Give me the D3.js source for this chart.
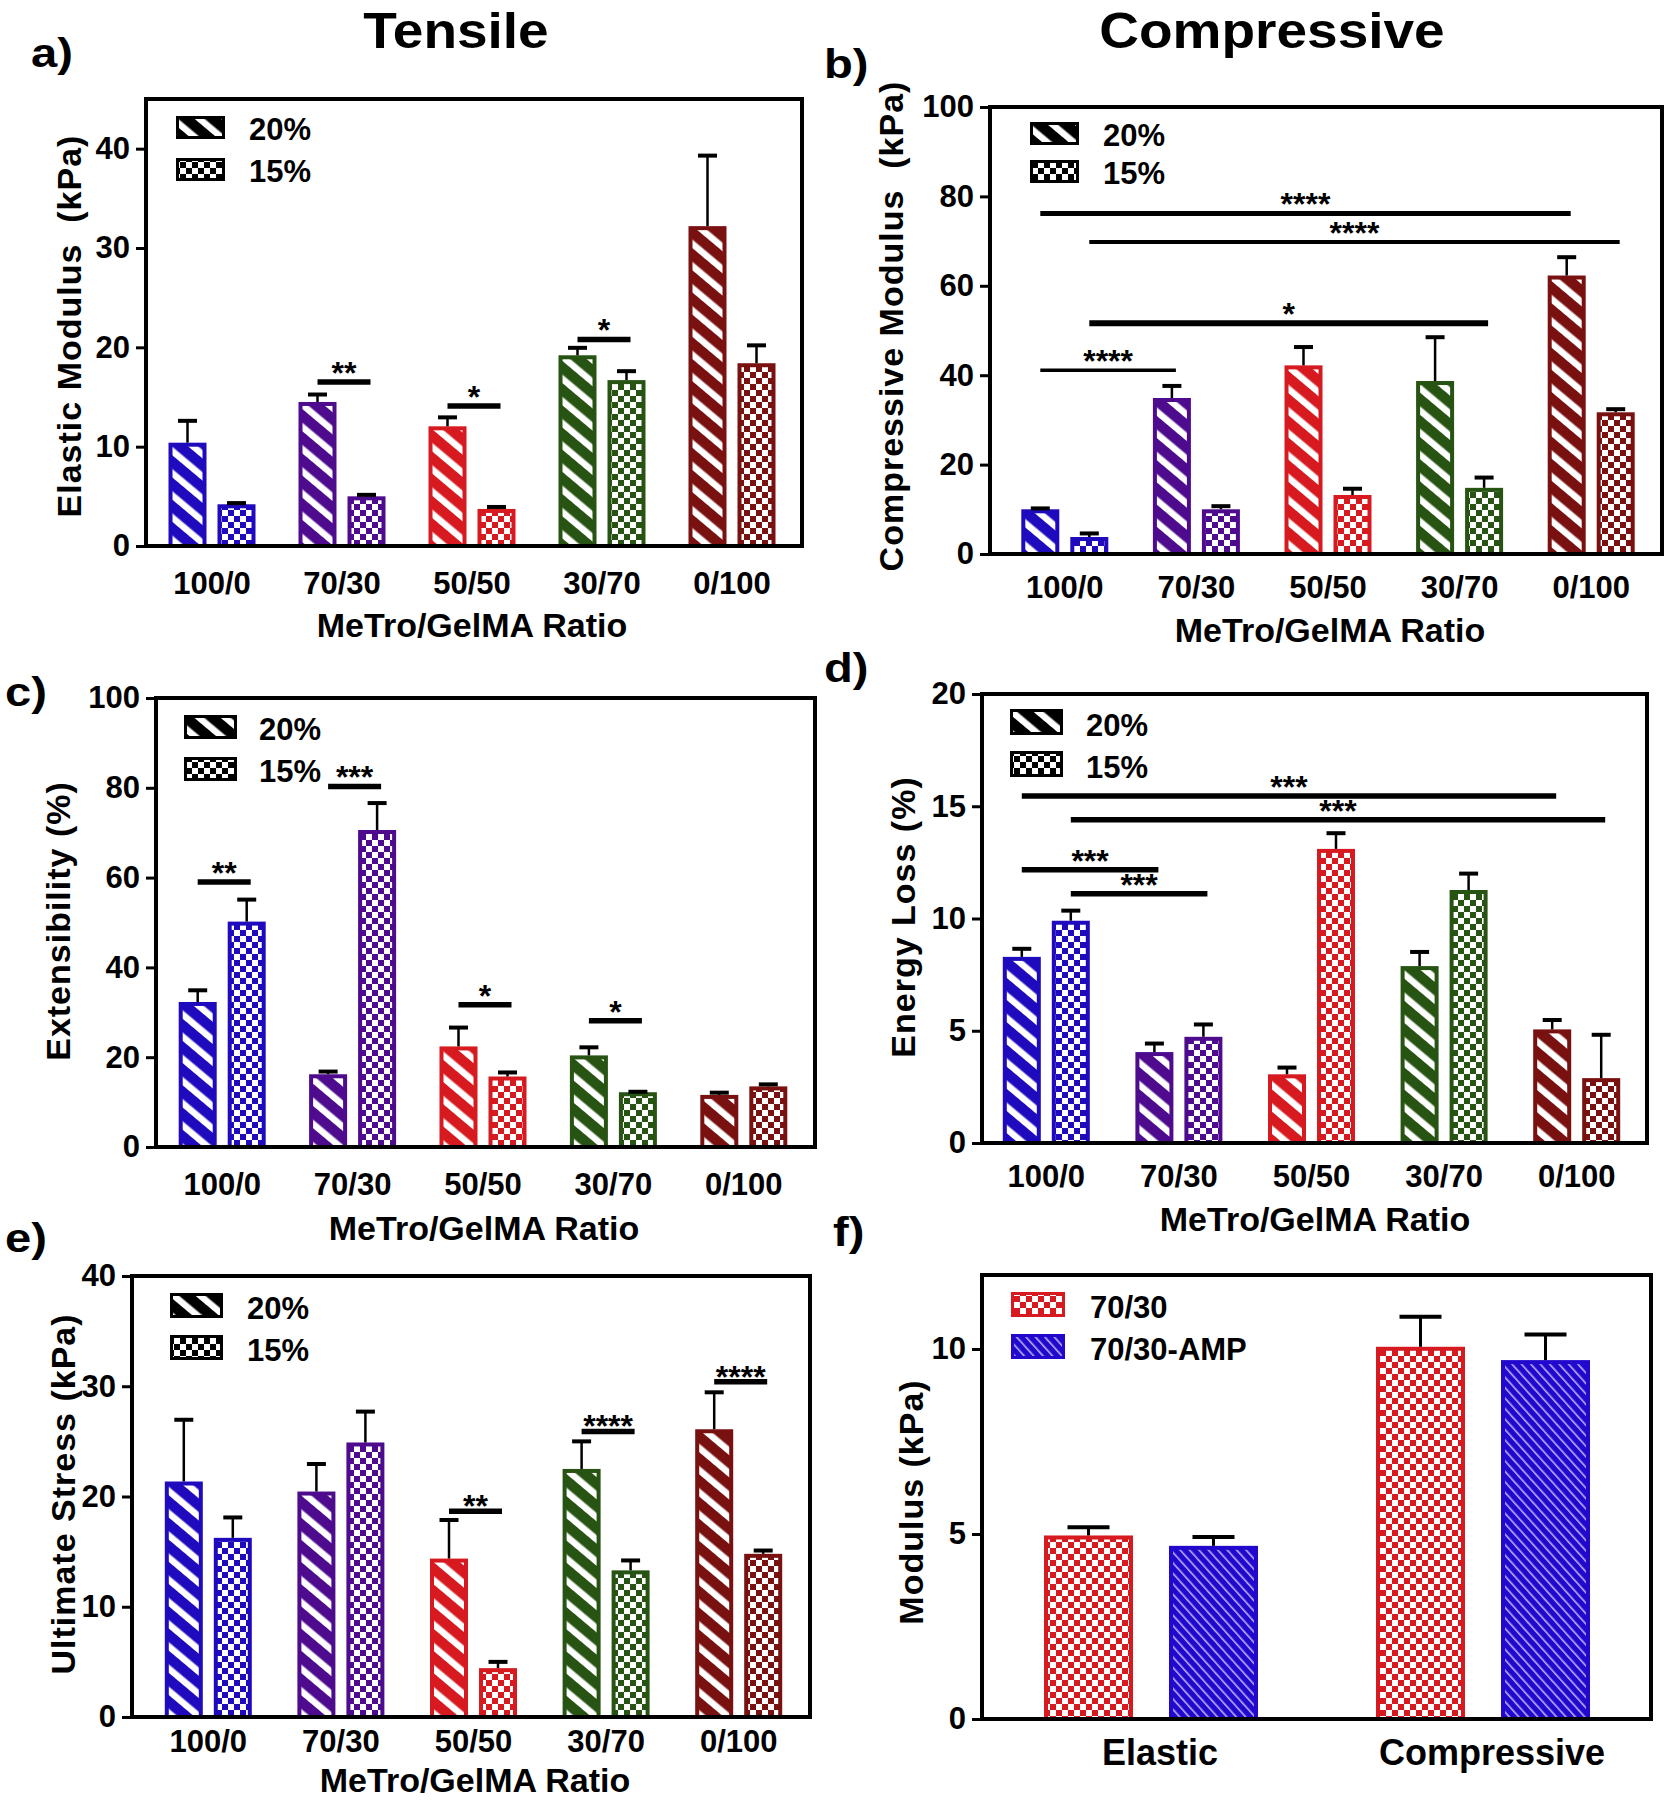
<!DOCTYPE html>
<html><head><meta charset="utf-8">
<script src="https://cdn.jsdelivr.net/npm/d3@7"></script>
<style>
body{margin:0;background:#fff;}
svg text{font-family:"Liberation Sans",Arial,Helvetica,sans-serif;font-weight:bold;fill:#000;}
</style></head><body>
<svg id="fig" width="1667" height="1800"></svg>
<script>
// ---------------- DATA ----------------
const ratios = ["100/0","70/30","50/50","30/70","0/100"];
const seriesNames = ["20%","15%"];
const ratioColors = ["#1f0bbd","#4e0b8e","#d61a20","#275313","#7a1111"];

// a) Tensile – Elastic modulus (kPa)
const elastic20 = [10.4, 14.5, 12.05, 19.2, 32.2];
const elastic20Err = [2.2, 0.75, 0.9, 0.75, 7.1];
const elastic15 = [4.2, 5.0, 3.73, 16.7, 18.4];
const elastic15Err = [0.12, 0.15, 0.2, 0.9, 1.8];
const elasticSig = [
  {from:[1,0], to:[1,1], y:16.5, label:"**"},
  {from:[2,0], to:[2,1], y:14.1, label:"*"},
  {from:[3,0], to:[3,1], y:20.8, label:"*"}
];

// b) Compressive modulus (kPa)
const compress20 = [10.0, 34.9, 42.2, 38.7, 62.3];
const compress20Err = [0.2, 2.7, 4.1, 9.8, 4.1];
const compress15 = [3.8, 10.0, 13.2, 14.8, 31.7];
const compress15Err = [0.8, 0.7, 1.4, 2.3, 0.7];
const compressSig = [
  {from:[0,0], to:[4,0], y:76.2, label:"****", w:5},
  {from:[0,1], to:[4,1], y:69.8, label:"****", w:4},
  {from:[0,1], to:[3,1], y:51.6, label:"*", w:6},
  {from:[0,0], to:[1,0], y:41.1, label:"****", w:3.5}
];

// c) Extensibility (%)
const extens20 = [32.3, 16.2, 22.4, 20.4, 11.6];
const extens20Err = [2.6, 0.6, 4.2, 1.8, 0.5];
const extens15 = [50.2, 70.6, 15.7, 12.2, 13.5];
const extens15Err = [4.9, 6.0, 0.9, 0.1, 0.45];
const extensSig = [
  {from:[0,0], to:[0,1], y:59.0, label:"**"},
  {from:[1,0], to:[1,1], y:80.3, label:"***"},
  {from:[2,0], to:[2,1], y:31.7, label:"*"},
  {from:[3,0], to:[3,1], y:28.1, label:"*"}
];

// d) Energy loss (%)
const energy20 = [8.29, 4.05, 3.06, 7.88, 5.06];
const energy20Err = [0.36, 0.38, 0.3, 0.63, 0.42];
const energy15 = [9.9, 4.73, 13.1, 11.27, 2.89];
const energy15Err = [0.45, 0.55, 0.7, 0.73, 1.93];
const energySig = [
  {from:[0,0], to:[4,0], y:15.46, label:"***"},
  {from:[0,1], to:[4,1], y:14.4, label:"***"},
  {from:[0,0], to:[1,0], y:12.17, label:"***"},
  {from:[0,1], to:[1,1], y:11.1, label:"***"}
];

// e) Ultimate stress (kPa)
const stress20 = [21.36, 20.45, 14.37, 22.5, 26.1];
const stress20Err = [5.6, 2.5, 3.5, 2.5, 3.35];
const stress15 = [16.25, 24.9, 4.43, 13.3, 14.8];
const stress15Err = [1.85, 2.8, 0.57, 0.9, 0.3];
const stressSig = [
  {from:[2,0], to:[2,1], y:18.67, label:"**"},
  {from:[3,0], to:[3,1], y:25.9, label:"****"},
  {from:[4,0], to:[4,1], y:30.4, label:"****"}
];

// f) Modulus (kPa): 70/30 vs 70/30-AMP
const modCats = ["Elastic","Compressive"];
const modSeries = ["70/30","70/30-AMP"];
const modColors = ["#d61a20","#2208cc"];
const mod7030 = [4.96, 10.06];
const mod7030Err = [0.22, 0.81];
const modAMP = [4.68, 9.7];
const modAMPErr = [0.24, 0.69];

// ---------------- DRAWING ----------------
const svg = d3.select("#fig");
const defs = svg.append("defs");
const patCache = {};
function pattern(type, color){
  const id = type + "-" + color.replace("#","");
  if (patCache[id]) return "url(#"+id+")";
  patCache[id] = true;
  let p;
  if (type === "stripe"){
    p = defs.append("pattern").attr("id",id).attr("patternUnits","userSpaceOnUse")
      .attr("width",17).attr("height",17).attr("patternTransform","rotate(-50)");
    p.append("rect").attr("width",17).attr("height",17).attr("fill",color);
    p.append("rect").attr("x",0).attr("width",6.5).attr("height",17).attr("fill","#fff");
  } else if (type === "check"){
    p = defs.append("pattern").attr("id",id).attr("patternUnits","userSpaceOnUse")
      .attr("width",12).attr("height",12);
    p.append("rect").attr("width",12).attr("height",12).attr("fill",color);
    p.append("rect").attr("x",0).attr("y",0).attr("width",6).attr("height",6).attr("fill","#fff");
    p.append("rect").attr("x",6).attr("y",6).attr("width",6).attr("height",6).attr("fill","#fff");
  } else if (type === "checkF"){
    p = defs.append("pattern").attr("id",id).attr("patternUnits","userSpaceOnUse")
      .attr("width",12).attr("height",12);
    p.append("rect").attr("width",12).attr("height",12).attr("fill",color);
    p.append("rect").attr("x",0).attr("y",0).attr("width",6).attr("height",6).attr("fill","#fff");
    p.append("rect").attr("x",6).attr("y",6).attr("width",6).attr("height",6).attr("fill","#fff");
  } else if (type === "hatchF"){
    p = defs.append("pattern").attr("id",id).attr("patternUnits","userSpaceOnUse")
      .attr("width",7).attr("height",7).attr("patternTransform","rotate(-42)");
    p.append("rect").attr("width",7).attr("height",7).attr("fill",color);
    p.append("rect").attr("x",0).attr("width",1.6).attr("height",7).attr("fill","#b3b0ff");
  }
  return "url(#"+id+")";
}

function drawPanel(p){
  const g = svg.append("g");
  const x = d3.scaleBand().domain(p.cats).range([p.xr0, p.xr1]);
  const y = d3.scaleLinear().domain(p.yDomain).range([p.B, p.T]);
  const bw = p.barW, sw = 4;
  const cx = (ci, si) => x(p.cats[ci]) + x.bandwidth()/2 + p.offsets[si];

  const rows = [];
  p.series.forEach((s, si) => s.values.forEach((v, ci) => rows.push({
    ci, si, v, e: s.errs[ci],
    color: s.colors ? s.colors[ci] : s.color,
    type: s.type
  })));

  g.selectAll("rect.bar").data(rows).join("rect").attr("class","bar")
    .attr("x", d => cx(d.ci, d.si) - bw/2 + sw/2)
    .attr("y", d => y(d.v) + sw/2)
    .attr("width", bw - sw)
    .attr("height", d => y(0) - y(d.v) - sw/2)
    .attr("fill", d => pattern(d.type, d.color))
    .attr("stroke", d => d.color).attr("stroke-width", sw);

  // error bars (upper only)
  g.selectAll("line.ev").data(rows).join("line").attr("class","ev")
    .attr("x1", d => cx(d.ci, d.si)).attr("x2", d => cx(d.ci, d.si))
    .attr("y1", d => y(d.v)).attr("y2", d => y(d.v + d.e))
    .attr("stroke","#000").attr("stroke-width", p.evW || 2.5);
  g.selectAll("line.ec").data(rows).join("line").attr("class","ec")
    .attr("x1", d => cx(d.ci, d.si) - p.capW/2).attr("x2", d => cx(d.ci, d.si) + p.capW/2)
    .attr("y1", d => y(d.v + d.e)).attr("y2", d => y(d.v + d.e))
    .attr("stroke","#000").attr("stroke-width", 4);

  // axes
  const ya = g.append("g").attr("transform", `translate(${p.L},0)`)
    .call(d3.axisLeft(y).tickValues(p.yTicks).tickSize(10).tickPadding(6));
  ya.select(".domain").remove();
  ya.selectAll(".tick line").attr("stroke","#000").attr("stroke-width",3);
  ya.selectAll(".tick text").style("font-size", "31px").attr("fill","#000");

  const xa = g.append("g").attr("transform", `translate(0,${p.B})`)
    .call(d3.axisBottom(x).tickSize(0).tickPadding(p.xPad));
  xa.select(".domain").remove();
  xa.selectAll(".tick text").style("font-size", (p.xFont||31)+"px").attr("fill","#000")
    .attr("dx", p.xLabelDx || 0);

  // frame
  g.append("rect").attr("x",p.L).attr("y",p.T).attr("width",p.R-p.L).attr("height",p.B-p.T)
    .attr("fill","none").attr("stroke","#000").attr("stroke-width",4);

  // significance lines
  (p.sig||[]).forEach(s => {
    const x1 = cx(s.from[0], s.from[1]), x2 = cx(s.to[0], s.to[1]) + 4;
    g.append("line").attr("x1",x1).attr("x2",x2).attr("y1",y(s.y)).attr("y2",y(s.y))
      .attr("stroke","#000").attr("stroke-width", s.w || 5.5);
    g.append("text").attr("x",(x1+x2)/2).attr("y", y(s.y) + (p.starDy != null ? p.starDy : 2))
      .attr("text-anchor","middle").style("font-size","32px").attr("fill","#1a1a1a").text(s.label);
  });

  // legend
  p.legend.forEach((it, i) => {
    const yy = p.leg.y + i * p.leg.dy;
    g.append("rect").attr("x", p.leg.x + 1.5).attr("y", yy + 1.5)
      .attr("width", p.leg.w - 3).attr("height", p.leg.h - 3)
      .attr("fill", pattern(it.type, it.color)).attr("stroke", it.color).attr("stroke-width",3);
    g.append("text").attr("x", p.leg.tx).attr("y", yy + p.leg.h + 1)
      .style("font-size","31px").text(it.name);
  });

  // axis titles
  g.append("text").attr("transform", `translate(${p.ytX},${p.ytY}) rotate(-90)`)
    .attr("text-anchor","middle").attr("dominant-baseline","central")
    .style("font-size","34px").style("letter-spacing","1px").style("white-space","pre")
    .text(p.yTitle);
  if (p.xTitle){
    g.append("text").attr("x",p.xtX).attr("y",p.xtY).attr("text-anchor","middle")
      .style("font-size","34px").text(p.xTitle);
  }
  // panel letter
  g.append("text").attr("transform", `translate(${p.lab[0]},${p.lab[1]}) scale(1.15,1)`)
    .style("font-size","41px").text(p.letter);
}

const legend2 = [{name:seriesNames[0], type:"stripe", color:"#000"},
                 {name:seriesNames[1], type:"check", color:"#000"}];
function twoSeries(v20, e20, v15, e15){
  return [{values:v20, errs:e20, colors:ratioColors, type:"stripe"},
          {values:v15, errs:e15, colors:ratioColors, type:"check"}];
}
const common = {cats:ratios, barW:38, offsets:[-24.5,24.5], capW:19, legend:legend2};

drawPanel(Object.assign({}, common, {
  L:146, T:99, R:802, B:546, xr0:147, xr1:797, yDomain:[0,45], yTicks:[0,10,20,30,40],
  series: twoSeries(elastic20, elastic20Err, elastic15, elastic15Err), sig: elasticSig, xPad:26,
  leg:{x:176, y:116, dy:42, w:49, h:23, tx:249},
  yTitle:"Elastic Modulus  (kPa)", ytX:69, ytY:326,
  xTitle:"MeTro/GelMA Ratio", xtX:472, xtY:637, letter:"a)", lab:[31,67]
}));
drawPanel(Object.assign({}, common, {
  L:990, T:107, R:1662, B:554, xr0:999, xr1:1657, yDomain:[0,100], yTicks:[0,20,40,60,80,100],
  series: twoSeries(compress20, compress20Err, compress15, compress15Err), sig: compressSig, xPad:22,
  leg:{x:1030, y:122, dy:38, w:49, h:23, tx:1103},
  yTitle:"Compressive Modulus  (kPa)", ytX:891, ytY:326,
  xTitle:"MeTro/GelMA Ratio", xtX:1330, xtY:642, letter:"b)", lab:[824,78]
}));
drawPanel(Object.assign({}, common, {
  L:156, T:698, R:815, B:1147, xr0:157, xr1:809, yDomain:[0,100], yTicks:[0,20,40,60,80,100],
  series: twoSeries(extens20, extens20Err, extens15, extens15Err), sig: extensSig, xPad:26,
  leg:{x:184, y:715, dy:42, w:53, h:24, tx:259},
  yTitle:"Extensibility (%)", ytX:58, ytY:921,
  xTitle:"MeTro/GelMA Ratio", xtX:484, xtY:1240, letter:"c)", lab:[5,706]
}));
drawPanel(Object.assign({}, common, {
  L:982, T:694, R:1647, B:1143, xr0:980, xr1:1643, yDomain:[0,20], yTicks:[0,5,10,15,20],
  series: twoSeries(energy20, energy20Err, energy15, energy15Err), sig: energySig, xPad:22,
  leg:{x:1010, y:709, dy:42, w:53, h:26, tx:1086},
  yTitle:"Energy Loss (%)", ytX:903, ytY:917,
  xTitle:"MeTro/GelMA Ratio", xtX:1315, xtY:1231, letter:"d)", lab:[824,682]
}));
drawPanel(Object.assign({}, common, {
  L:132, T:1276, R:810, B:1717, xr0:142, xr1:805, yDomain:[0,40], yTicks:[0,10,20,30,40],
  series: twoSeries(stress20, stress20Err, stress15, stress15Err), sig: stressSig, xPad:13, starDy:6,
  leg:{x:170, y:1293, dy:42, w:53, h:25, tx:247},
  yTitle:"Ultimate Stress (kPa)", ytX:63, ytY:1494,
  xTitle:"MeTro/GelMA Ratio", xtX:475, xtY:1792, letter:"e)", lab:[5,1252]
}));
drawPanel({
  cats:modCats, barW:89, offsets:[-62.5,62.5], capW:42, evW:3,
  L:982, T:1275, R:1651, B:1719, xr0:985, xr1:1649, yDomain:[0,12], yTicks:[0,5,10],
  series:[{values:mod7030, errs:mod7030Err, color:modColors[0], type:"checkF"},
          {values:modAMP, errs:modAMPErr, color:modColors[1], type:"hatchF"}],
  sig:[], xPad:20, xFont:36, xLabelDx:9,
  legend:[{name:modSeries[0], type:"checkF", color:modColors[0]},
          {name:modSeries[1], type:"hatchF", color:modColors[1]}],
  leg:{x:1011, y:1292, dy:42, w:54, h:25, tx:1090},
  yTitle:"Modulus (kPa)", ytX:911, ytY:1502, letter:"f)", lab:[833,1246]
});

// column headers
svg.append("text").attr("transform","translate(456,48) scale(1.1,1)").attr("text-anchor","middle")
  .style("font-size","50px").text("Tensile");
svg.append("text").attr("transform","translate(1272,48) scale(1.1,1)").attr("text-anchor","middle")
  .style("font-size","50px").text("Compressive");
</script>
</body></html>
